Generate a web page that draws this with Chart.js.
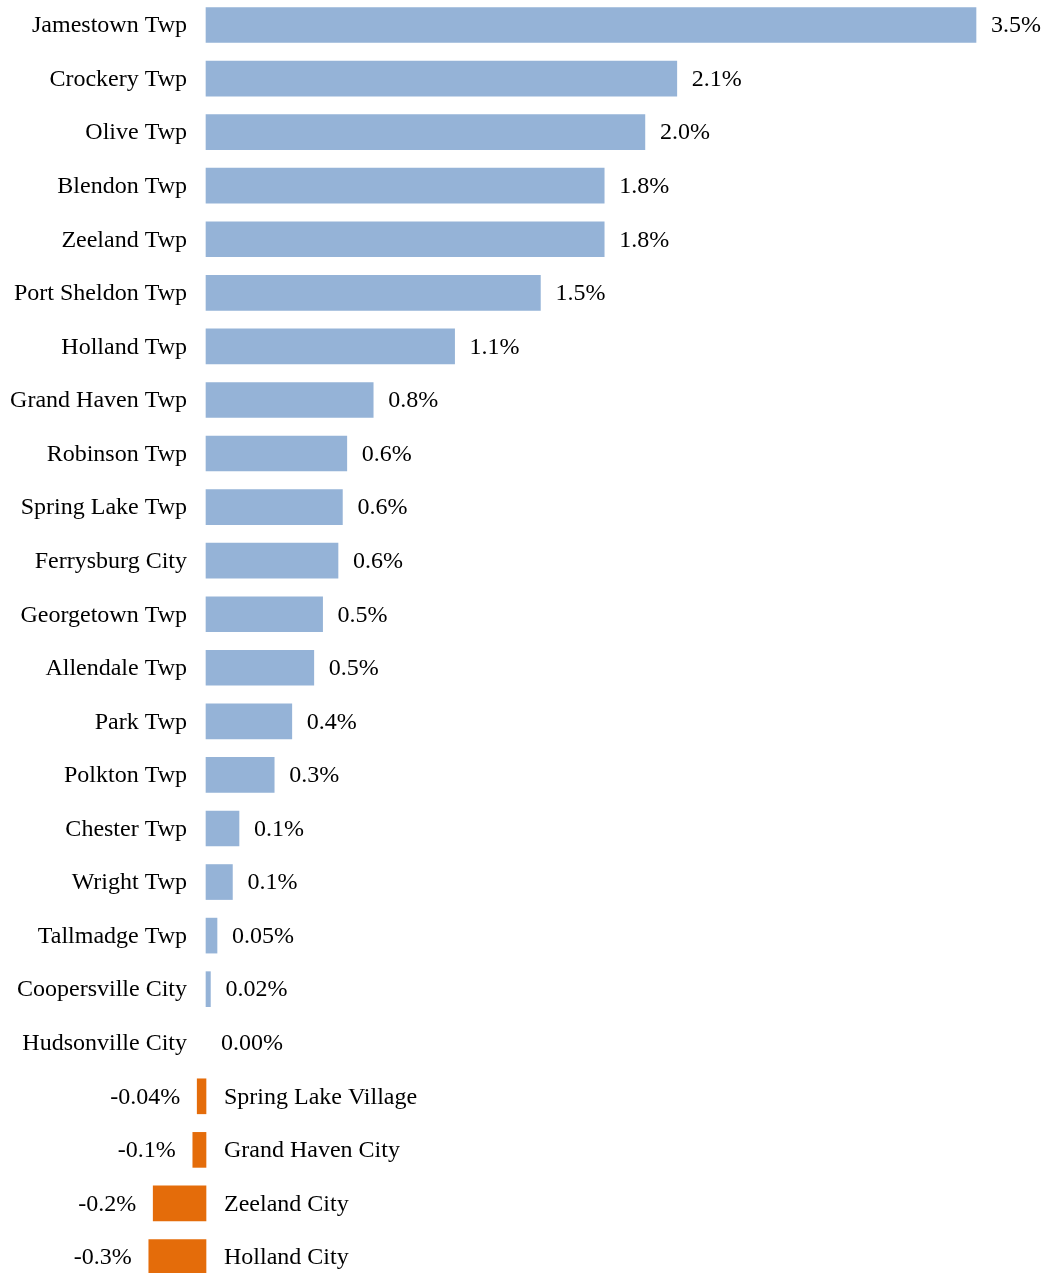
<!DOCTYPE html>
<html>
<head>
<meta charset="utf-8">
<script src="https://cdn.jsdelivr.net/npm/chart.js@4.4.1/dist/chart.umd.min.js"></script>
<style>
  html, body { margin: 0; padding: 0; background: #fff; }
  #wrap { width: 1042px; height: 1273px; position: relative; }
</style>
</head>
<body>
<div id="wrap"><canvas id="chart"></canvas></div>
<script>
const places = [
    'Jamestown Twp', 'Crockery Twp', 'Olive Twp', 'Blendon Twp', 'Zeeland Twp',
    'Port Sheldon Twp', 'Holland Twp', 'Grand Haven Twp', 'Robinson Twp', 'Spring Lake Twp',
    'Ferrysburg City', 'Georgetown Twp', 'Allendale Twp', 'Park Twp', 'Polkton Twp',
    'Chester Twp', 'Wright Twp', 'Tallmadge Twp', 'Coopersville City', 'Hudsonville City',
    'Spring Lake Village', 'Grand Haven City', 'Zeeland City', 'Holland City'
];

const growth = [
    3.50, 2.14, 1.995, 1.81, 1.81,
    1.52, 1.13, 0.76, 0.64, 0.62,
    0.60, 0.53, 0.49, 0.39, 0.31,
    0.15, 0.12, 0.05, 0.02, 0.00,
    -0.04, -0.06, -0.24, -0.26
];

const growthLabels = [
    '3.5%', '2.1%', '2.0%', '1.8%', '1.8%',
    '1.5%', '1.1%', '0.8%', '0.6%', '0.6%',
    '0.6%', '0.5%', '0.5%', '0.4%', '0.3%',
    '0.1%', '0.1%', '0.05%', '0.02%', '0.00%',
    '-0.04%', '-0.1%', '-0.2%', '-0.3%'
];

const FONT = '24px "Liberation Serif", "Times New Roman", serif';

// etiquetas de categoria y valor junto a cada barra
const labelPlugin = {
    id: 'barLabels',
    afterDatasetsDraw(chart) {
        const ctx = chart.ctx;
        const meta = chart.getDatasetMeta(0);
        const zero = chart.scales.x.getPixelForValue(0);
        ctx.save();
        ctx.font = FONT;
        ctx.fillStyle = '#000';
        ctx.textBaseline = 'middle';
        meta.data.forEach((bar, i) => {
            const v = growth[i];
            const y = bar.y + 1;
            if (v >= 0) {
                ctx.textAlign = 'right';
                ctx.fillText(places[i], zero - 19, y);
                ctx.textAlign = 'left';
                ctx.fillText(growthLabels[i], bar.x + 15, y);
            } else {
                ctx.textAlign = 'left';
                ctx.fillText(places[i], zero + 18, y);
                ctx.textAlign = 'right';
                ctx.fillText(growthLabels[i], bar.x - 17, y);
            }
        });
        ctx.restore();
    }
};

new Chart(document.getElementById('chart'), {
    type: 'bar',
    data: {
        labels: places,
        datasets: [{
            data: growth,
            backgroundColor: growth.map(v => v < 0 ? '#E46C0A' : (v === 0 ? 'rgba(0,0,0,0)' : '#95B3D7')),
            borderWidth: 0,
            barThickness: 35,
            clip: false
        }]
    },
    options: {
        indexAxis: 'y',
        responsive: true,
        maintainAspectRatio: false,
        animation: false,
        layout: {
            padding: { top: 25, bottom: 16, left: 0, right: 0 }
        },
        scales: {
            x: {
                display: false,
                min: -206 / 220,
                max: (1042 - 206) / 220,
                grid: { display: false }
            },
            y: {
                display: false,
                offset: false,
                grid: { display: false }
            }
        },
        plugins: {
            legend: { display: false },
            tooltip: { enabled: false }
        }
    },
    plugins: [labelPlugin]
});
</script>
</body>
</html>
